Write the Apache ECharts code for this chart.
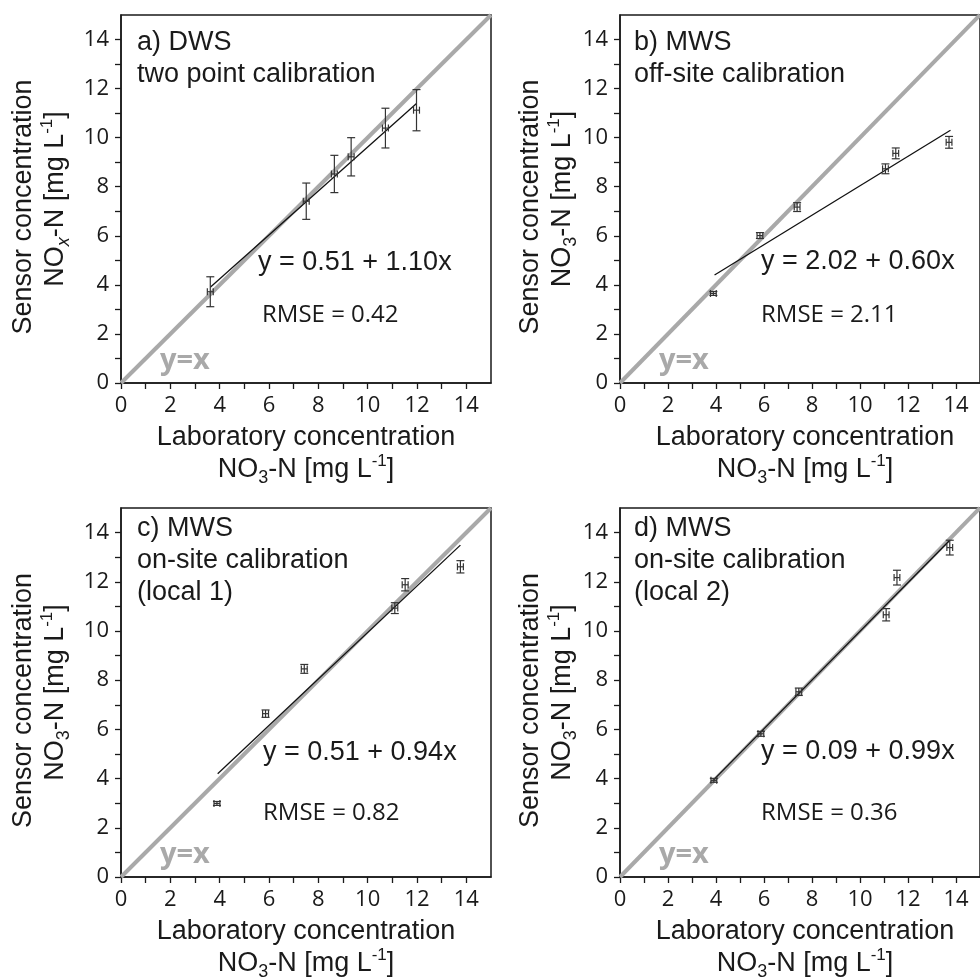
<!DOCTYPE html>
<html>
<head>
<meta charset="utf-8">
<script src="https://cdn.jsdelivr.net/npm/echarts@6/dist/echarts.min.js"></script>
<style>
html,body{margin:0;padding:0;background:#fff;}
#c{width:980px;height:979px;}
</style>
</head>
<body>
<div id="c"></div>
<script>
// ---------- data ----------
const tickValues = [0, 2, 4, 6, 8, 10, 12, 14];
const identityLine = [[0, 0], [15, 15]];

// a) DWS two point calibration
const aLab = [3.62, 7.51, 8.65, 9.33, 10.72, 11.98];
const aSensor = [3.72, 7.41, 8.52, 9.22, 10.39, 11.12];
const aLabErr = [0.12, 0.12, 0.12, 0.12, 0.12, 0.12];
const aSensorErr = [0.61, 0.74, 0.76, 0.78, 0.81, 0.84];
const aFit = [[3.62, 3.90], [11.98, 11.39]];

// b) MWS off-site calibration
const bLab = [3.89, 5.83, 7.38, 11.06, 11.49, 13.71];
const bSensor = [3.65, 6.01, 7.17, 8.73, 9.36, 9.81];
const bLabErr = [0.12, 0.12, 0.12, 0.12, 0.12, 0.12];
const bSensorErr = [0.08, 0.12, 0.18, 0.2, 0.22, 0.24];
const bFit = [[3.94, 4.40], [13.77, 10.30]];

// c) MWS on-site calibration (local 1)
const cLab = [3.89, 5.86, 7.43, 11.10, 11.52, 13.76];
const cSensor = [2.99, 6.64, 8.46, 10.93, 11.88, 12.61];
const cLabErr = [0.12, 0.12, 0.12, 0.12, 0.12, 0.12];
const cSensorErr = [0.08, 0.15, 0.18, 0.22, 0.25, 0.25];
const cFit = [[3.92, 4.20], [13.76, 13.49]];

// d) MWS on-site calibration (local 2)
const dLab = [3.91, 5.87, 7.45, 11.09, 11.54, 13.74];
const dSensor = [3.93, 5.82, 7.53, 10.66, 12.17, 13.39];
const dLabErr = [0.12, 0.12, 0.12, 0.12, 0.12, 0.12];
const dSensorErr = [0.08, 0.1, 0.15, 0.25, 0.3, 0.3];
const dFit = [[3.91, 3.96], [13.74, 13.69]];

const panelTitles = [
  ['a) DWS', 'two point calibration'],
  ['b) MWS', 'off-site calibration'],
  ['c) MWS', 'on-site calibration', '(local 1)'],
  ['d) MWS', 'on-site calibration', '(local 2)']
];
const equations = ['y = 0.51 + 1.10x', 'y = 2.02 + 0.60x', 'y = 0.51 + 0.94x', 'y = 0.09 + 0.99x'];
const rmses = ['RMSE = 0.42', 'RMSE = 2.11', 'RMSE = 0.82', 'RMSE = 0.36'];

// ---------- layout ----------
const grids = [
  {left: 121, top: 15, width: 370, height: 368},
  {left: 620, top: 15, width: 370, height: 368},
  {left: 121, top: 508, width: 370, height: 369},
  {left: 620, top: 508, width: 370, height: 369}
];
const SANS = 'Liberation Sans, Arial, sans-serif';
const NUM = 'Open Sans, Noto Sans, sans-serif';
const INK = '#1a1a1a';

function errRender(params, api) {
  const x = api.value(0), y = api.value(1), ex = api.value(2), ey = api.value(3);
  const c = api.coord([x, y]);
  const t = api.coord([x, y + ey]), b = api.coord([x, y - ey]);
  const l = api.coord([x - ex, y]), r = api.coord([x + ex, y]);
  const cw = 4, ch = 3.5;
  const style = {stroke: '#333', lineWidth: 1.2, fill: null};
  return {type: 'group', children: [
    {type: 'line', shape: {x1: c[0], y1: t[1], x2: c[0], y2: b[1]}, style},
    {type: 'line', shape: {x1: c[0] - cw, y1: t[1], x2: c[0] + cw, y2: t[1]}, style},
    {type: 'line', shape: {x1: c[0] - cw, y1: b[1], x2: c[0] + cw, y2: b[1]}, style},
    {type: 'line', shape: {x1: l[0], y1: c[1], x2: r[0], y2: c[1]}, style},
    {type: 'line', shape: {x1: l[0], y1: c[1] - ch, x2: l[0], y2: c[1] + ch}, style},
    {type: 'line', shape: {x1: r[0], y1: c[1] - ch, x2: r[0], y2: c[1] + ch}, style}
  ]};
}

const panels = [
  {lab: aLab, sens: aSensor, le: aLabErr, se: aSensorErr, fit: aFit},
  {lab: bLab, sens: bSensor, le: bLabErr, se: bSensorErr, fit: bFit},
  {lab: cLab, sens: cSensor, le: cLabErr, se: cSensorErr, fit: cFit},
  {lab: dLab, sens: dSensor, le: dLabErr, se: dSensorErr, fit: dFit}
];

function axisCommon(i) {
  return {
    type: 'value', min: 0, max: 15, interval: 1,
    gridIndex: i,
    axisLine: {show: true, lineStyle: {color: INK, width: 1.5}},
    axisTick: {show: true, inside: false, length: 6, lineStyle: {color: INK, width: 1.3}},
    axisLabel: {
      show: true, margin: 12, fontFamily: NUM, fontSize: 22, color: INK,
      showMaxLabel: false,
      formatter: v => (tickValues.indexOf(v) >= 0 ? String(v) : '')
    },
    splitLine: {show: false}
  };
}

const xAxes = grids.map((g, i) => axisCommon(i));
const yAxes = grids.map((g, i) => axisCommon(i));

const series = [];
panels.forEach((p, i) => {
  series.push({
    type: 'line', xAxisIndex: i, yAxisIndex: i, data: identityLine,
    showSymbol: false, symbol: 'none', lineStyle: {color: '#a9a9a9', width: 4}, z: 1, silent: true
  });
  series.push({
    type: 'line', xAxisIndex: i, yAxisIndex: i, data: p.fit,
    showSymbol: false, symbol: 'none', lineStyle: {color: '#111', width: 1.3}, z: 3, silent: true
  });
  series.push({
    type: 'custom', xAxisIndex: i, yAxisIndex: i, renderItem: errRender, z: 4,
    data: p.lab.map((x, k) => [x, p.sens[k], p.le[k], p.se[k]])
  });
});

// ---------- text annotations ----------
const rich = {
  n: {fontSize: 27, fontFamily: SANS, color: INK, lineHeight: 34},
  sb: {fontSize: 18, fontFamily: SANS, color: INK, lineHeight: 22, verticalAlign: 'bottom'},
  sbi: {fontSize: 18, fontFamily: SANS, color: INK, lineHeight: 22, verticalAlign: 'bottom', fontStyle: 'italic'},
  sp: {fontSize: 17, fontFamily: SANS, color: INK, lineHeight: 20, verticalAlign: 'top'}
};
function txt(x, y, text, opt) {
  opt = opt || {};
  return {
    type: 'text', x: x, y: y, rotation: opt.rot || 0, z: 10, silent: true,
    style: {
      text: text, rich: opt.rich,
      font: opt.font || ('27px ' + SANS),
      fill: opt.fill || INK,
      align: opt.align || 'left', verticalAlign: 'middle',
      textAlign: opt.align || 'left', textVerticalAlign: 'middle'
    }
  };
}
const graphic = [];
const titleLeft = [137, 634, 137, 634];
const titleTop = [43, 43, 529, 529];
const eqPos = [[258, 263], [761, 262], [263, 753], [761, 752]];
const rmPos = [[262, 315], [761, 315], [263, 813], [761, 813]];
const yxPos = [[160, 361], [659, 361], [160, 855], [659, 855]];
const xName2 = '{n|NO}{sb|3}{n|-N [mg L}{sp|-1}{n|]}';
const yName2 = ['{n|NO}{sbi|x}{n|-N [mg L}{sp|-1}{n|]}', xName2, xName2, xName2];
const yTitleX = [[24, 56], [531, 563], [24, 56], [531, 563]];

grids.forEach((g, i) => {
  panelTitles[i].forEach((line, k) => {
    graphic.push(txt(titleLeft[i], titleTop[i] + k * 32, line));
  });
  graphic.push(txt(eqPos[i][0], eqPos[i][1], equations[i]));
  graphic.push(txt(rmPos[i][0], rmPos[i][1], rmses[i], {font: '24px ' + NUM}));
  graphic.push(txt(yxPos[i][0], yxPos[i][1], 'y=x', {font: 'bold 29px ' + NUM, fill: '#a9a9a9'}));
  const cx = g.left + 185;
  const axisY = g.top + g.height;
  graphic.push(txt(cx, axisY + 55, 'Laboratory concentration', {align: 'center'}));
  graphic.push(txt(cx, axisY + 87, xName2, {align: 'center', rich: rich}));
  const cy = g.top + g.height / 2;
  graphic.push(txt(yTitleX[i][0], cy + 8, 'Sensor concentration', {align: 'center', rot: Math.PI / 2}));
  graphic.push(txt(yTitleX[i][1], cy, yName2[i], {align: 'center', rot: Math.PI / 2, rich: rich}));
});

const chart = echarts.init(document.getElementById('c'), null, {renderer: 'canvas'});
chart.setOption({
  backgroundColor: '#ffffff',
  animation: false,
  grid: grids.map(g => Object.assign({show: true, borderColor: INK, borderWidth: 1.5, backgroundColor: 'transparent'}, g)),
  xAxis: xAxes,
  yAxis: yAxes,
  series: series,
  graphic: graphic
});
</script>
</body>
</html>
